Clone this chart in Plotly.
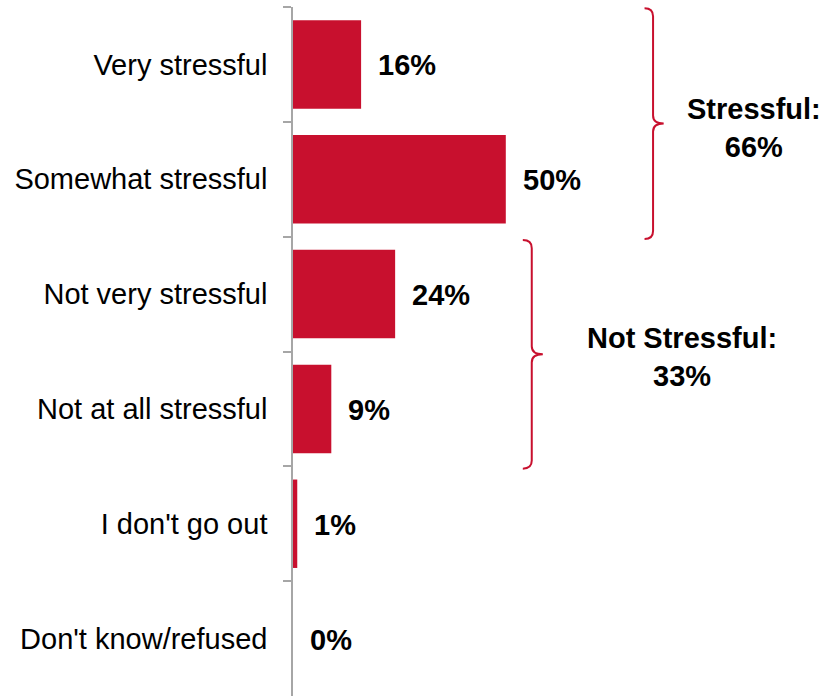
import plotly.graph_objects as go

categories = ["Very stressful", "Somewhat stressful", "Not very stressful",
              "Not at all stressful", "I don't go out", "Don't know/refused"]
values = [16, 50, 24, 9, 1, 0]
value_labels = ["16%", "50%", "24%", "9%", "1%", "0%"]

group_labels = ["<b>Stressful:</b><br><b>66%</b>", "<b>Not Stressful:</b><br><b>33%</b>"]
group_spans = [(0, 1), (2, 3)]          # category index ranges covered by braces
group_brace_x = [(82.6, 84.6, 87.1), (54.0, 56.1, 58.7)]  # hook, spine, tip
group_text_x = [108.2, 91.5]

RED = "#C8102E"
FONT = "Liberation Sans, Arial, sans-serif"
FS = 29

fig = go.Figure()
fig.add_trace(go.Bar(
    x=values, y=categories, orientation="h",
    marker=dict(color=RED, line=dict(width=0)),
    hoverinfo="skip",
))

for v, c, t in zip(values, categories, value_labels):
    fig.add_annotation(x=v, y=c, text=f"<b>{t}</b>", showarrow=False,
                       xanchor="left", xshift=15, yshift=-1,
                       font=dict(family=FONT, size=FS, color="black"))

def brace_path(x0, x1, x2, yt, yb, r=0.07):
    ym = (yt + yb) / 2
    return (f"M {x0},{yt} Q {x1},{yt} {x1},{yt + r} "
            f"L {x1},{ym - r} Q {x1},{ym} {x2},{ym} "
            f"Q {x1},{ym} {x1},{ym + r} "
            f"L {x1},{yb - r} Q {x1},{yb} {x0},{yb}")

for (a, b), (hx, sx, tx), lab, lx in zip(group_spans, group_brace_x, group_labels, group_text_x):
    yt = a - 0.49 if a == 0 else a - 0.47
    yb = b + 0.52
    fig.add_shape(type="path", xref="x", yref="y",
                  path=brace_path(hx, sx, tx, yt, yb),
                  line=dict(color=RED, width=2))
    fig.add_annotation(x=lx, y=(a + b) / 2 + 0.05, text=lab, showarrow=False,
                       xanchor="center", yanchor="middle", align="center",
                       font=dict(family=FONT, size=FS, color="black"))

fig.update_layout(
    width=825, height=696,
    margin=dict(l=293, r=0, t=7, b=0, autoexpand=False),
    paper_bgcolor="white", plot_bgcolor="white",
    bargap=0.23, showlegend=False,
    xaxis=dict(range=[0, 125], visible=False, fixedrange=True, automargin=False),
    yaxis=dict(type="category", categoryorder="array", categoryarray=categories,
               range=[5.5, -0.5], showline=True, linecolor="#A6A6A6", linewidth=1.5,
               ticks="outside", tickson="boundaries", ticklen=8, tickcolor="#A6A6A6",
               tickwidth=1.5, showgrid=False, zeroline=False, automargin=False,
               ticklabelstandoff=18, fixedrange=True,
               tickfont=dict(family=FONT, size=FS, color="black")),
)

fig.write_html("out.html",
               config={"displayModeBar": False},
               post_script="document.body.style.margin='0';document.body.style.overflow='hidden';")
